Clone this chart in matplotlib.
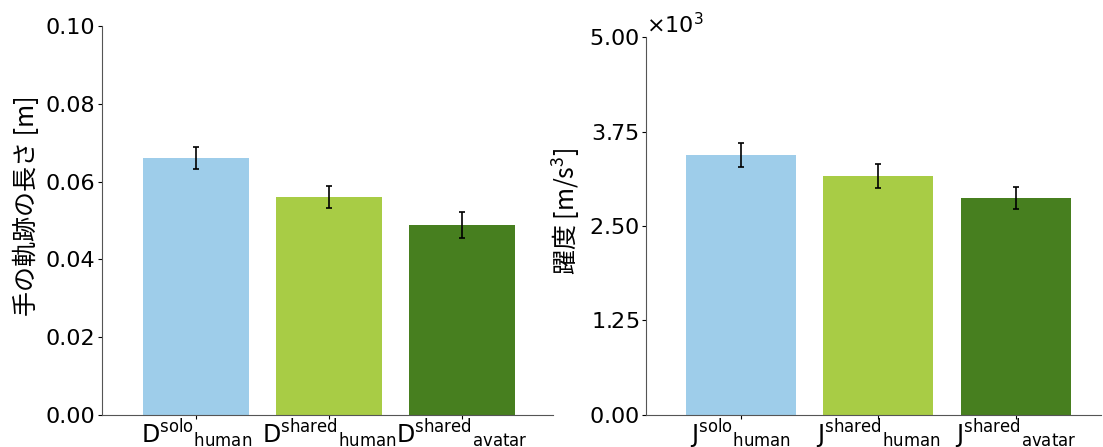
import numpy as np
import matplotlib
matplotlib.use("Agg")
import matplotlib.pyplot as plt
from matplotlib.ticker import ScalarFormatter

plt.rcParams['font.family'] = ['DejaVu Sans', 'Noto Sans CJK JP']
plt.rcParams['mathtext.default'] = 'regular'

colors = ['#9ecdea', '#a8cc45', '#477f1f']

# hand trajectory length
dist_labels = ['D$^{solo}$$_{human}$', 'D$^{shared}$$_{human}$', 'D$^{shared}$$_{avatar}$']
dist_mean = [0.0661, 0.0561, 0.0488]
dist_err = [0.0029, 0.0029, 0.0034]

# jerk
jerk_labels = ['J$^{solo}$$_{human}$', 'J$^{shared}$$_{human}$', 'J$^{shared}$$_{avatar}$']
jerk_mean = [3440, 3160, 2870]
jerk_err = [160, 162, 150]

fig = plt.figure(figsize=(11.03, 4.47), dpi=100)
ax1 = fig.add_axes([0.0925, 0.0716, 0.409, 0.870])
ax2 = fig.add_axes([0.5857, 0.0716, 0.4125, 0.8456])

def draw(ax, labels, mean, err):
    x = np.arange(len(labels))
    ax.bar(x, mean, width=0.8, color=colors)
    ax.errorbar(x, mean, yerr=err, fmt='none', ecolor='black', elinewidth=1.2, capsize=2.5, capthick=1.2)
    ax.set_xticks(x)
    ax.set_xticklabels(labels, fontsize=17)
    ax.tick_params(axis='y', labelsize=16, length=3, pad=2)
    ax.tick_params(axis='x', length=3, pad=-1.2)
    ax.spines['top'].set_visible(False)
    ax.spines['right'].set_visible(False)
    for s in ['left', 'bottom']:
        ax.spines[s].set_color('#555555')
    return x

draw(ax1, dist_labels, dist_mean, dist_err)
ax1.set_xlim(-0.71, 2.69)
ax1.set_ylim(0, 0.10)
ax1.set_yticks([0.0, 0.02, 0.04, 0.06, 0.08, 0.10])
ax1.set_ylabel('手の軌跡の長さ [m]', fontsize=18, family=['Noto Sans CJK JP', 'DejaVu Sans'])
ax1.yaxis.label.set_y(0.537)

draw(ax2, jerk_labels, jerk_mean, jerk_err)
ax2.set_xlim(-0.69, 2.62)
ax2.set_ylim(0, 5000)
ax2.set_yticks([0, 1250, 2500, 3750, 5000])
fmt = ScalarFormatter(useMathText=True)
fmt.set_powerlimits((0, 0))
ax2.yaxis.set_major_formatter(fmt)
ax2.yaxis.get_offset_text().set_fontsize(16)
ax2.set_ylabel('躍度 [m/s$^3$]', fontsize=18, family=['Noto Sans CJK JP', 'DejaVu Sans'])
ax2.yaxis.label.set_y(0.54)

fig.savefig('out.png', dpi=100)
